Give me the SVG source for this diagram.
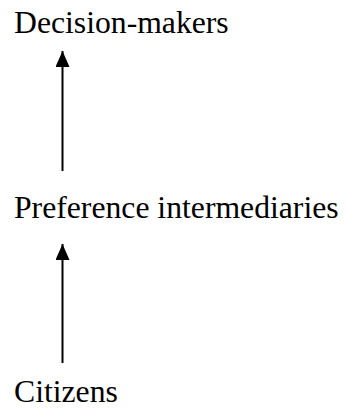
<svg xmlns="http://www.w3.org/2000/svg" width="347" height="412" viewBox="0 0 347 412">
  <style>
    .label { font-family: "Liberation Serif", "Times New Roman", serif; font-size: 31.7px; fill: #000; }
    .link { stroke: #000; stroke-width: 2; fill: none; }
  </style>
  <defs>
    <!-- solid triangular arrowhead for the upward connectors -->
    <marker id="arrow" markerUnits="userSpaceOnUse" markerWidth="17" markerHeight="15" refX="16" refY="7" orient="auto">
      <path d="M0,0 L16,7 L0,14 Z" fill="#000"/>
    </marker>
  </defs>
  <rect width="347" height="412" fill="#fff"/>
  <g id="connectors">
    <line class="link" x1="62.5" y1="171" x2="62.5" y2="51" marker-end="url(#arrow)"/>
    <line class="link" x1="62.5" y1="363" x2="62.5" y2="244" marker-end="url(#arrow)"/>
  </g>
  <g id="decision-makers">
    <text class="label" x="14" y="33">Decision-makers</text>
  </g>
  <g id="preference-intermediaries">
    <text class="label" x="14" y="218">Preference intermediaries</text>
  </g>
  <g id="citizens">
    <text class="label" x="14" y="402">Citizens</text>
  </g>
</svg>
